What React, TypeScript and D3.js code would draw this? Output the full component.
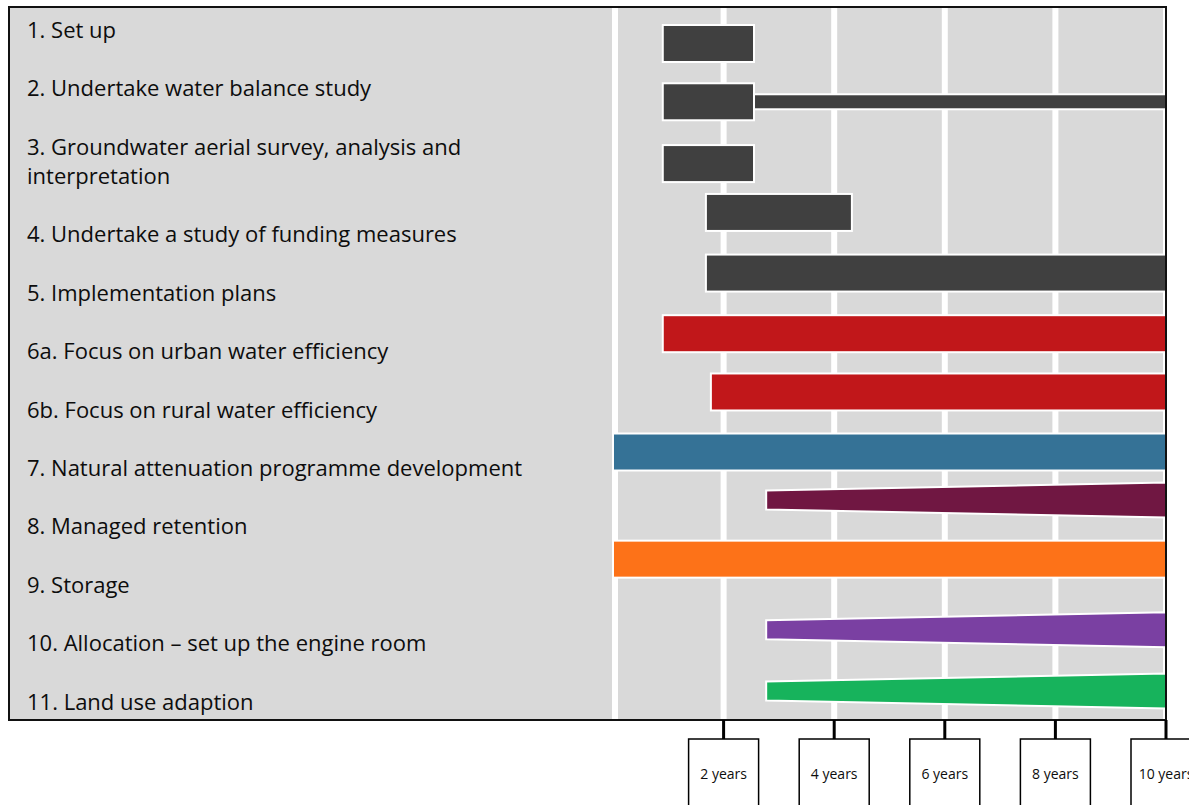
import React from 'react';
import * as d3 from 'd3';

// ---- data ----
const taskLabels: string[] = [
  '1. Set up',
  '2. Undertake water balance study',
  '3. Groundwater aerial survey, analysis and\ninterpretation',
  '4. Undertake a study of funding measures',
  '5. Implementation plans',
  '6a. Focus on urban water efficiency',
  '6b. Focus on rural water efficiency',
  '7. Natural attenuation programme development',
  '8. Managed retention',
  '9. Storage',
  '10. Allocation – set up the engine room',
  '11. Land use adaption',
];
const taskStart: number[] = [0.9, 0.9, 0.9, 1.68, 1.68, 0.9, 1.77, 0, 2.77, 0, 2.77, 2.77];
const taskEnd: number[] = [2.55, 2.55, 2.55, 4.32, 10, 10, 10, 10, 10, 10, 10, 10];
const taskShape: string[] = ['bar', 'bar', 'bar', 'bar', 'bar', 'bar', 'bar', 'bar', 'wedge', 'bar', 'wedge', 'wedge'];
const taskLane: number[] = [0, 0.99, 2.04, 2.87, 3.9, 4.93, 5.92, 6.94, 7.755, 8.76, 9.96, 11.0];
// follow-on phase of task 2 (thin bar)
const followTask: number[] = [1];
const followStart: number[] = [2.55];
const followEnd: number[] = [10];
const tickYears: number[] = [2, 4, 6, 8, 10];
const tickLabels: string[] = ['2 years', '4 years', '6 years', '8 years', '10 years'];
const gridYears: number[] = [0, 2, 4, 6, 8, 10];

// ---- styles ----
const taskColor: string[] = [
  '#404040', '#404040', '#404040', '#404040', '#404040',
  '#c1171a', '#c1171a', '#357296', '#701742', '#fd7218', '#7a40a2', '#17b35c',
];
const W = 1189;
const H = 805;
const frame = { x0: 9, y0: 7, x1: 1166, y1: 720 };
const FONT = '"Open Sans", "Noto Sans", sans-serif';

export default function App() {
  const x = d3.scaleLinear().domain([0, 10]).range([613, 1166]);
  const y = d3.scaleLinear().domain([0, 11]).range([43.5, 691]);
  const lineH = 29.2;
  const firstBase = 38;
  const barH = 37;
  const thinH = 15;
  const wedgeL = 19;
  const wedgeR = 35;

  // label line positions: each label followed by one blank line
  const lineStart: number[] = [];
  let acc = 0;
  taskLabels.forEach((t) => {
    lineStart.push(acc);
    acc += t.split('\n').length + 1;
  });

  const area = d3.area<number[]>()
    .x((d) => d[0])
    .y0((d) => d[1])
    .y1((d) => d[2]);

  return (
    <svg width={W} height={H} style={{ position: 'absolute', left: 0, top: 0, background: '#fff' }}>
      <rect x={frame.x0} y={frame.y0} width={frame.x1 - frame.x0} height={frame.y1 - frame.y0} fill="#d9d9d9" />
      {gridYears.map((g) => (
        <line key={'g' + g} x1={x(g) + (g === 0 ? 2 : 0)} x2={x(g) + (g === 0 ? 2 : 0)} y1={frame.y0} y2={frame.y1}
          stroke="#fff" strokeWidth={6} />
      ))}
      {taskLabels.map((t, i) => {
        const s = x(taskStart[i]);
        const e = x(taskEnd[i]);
        const c = y(taskLane[i]);
        if (taskShape[i] === 'wedge') {
          const d = area([
            [s, c - wedgeL / 2, c + wedgeL / 2],
            [e, c - wedgeR / 2, c + wedgeR / 2],
          ]) as string;
          return <path key={'b' + i} d={d} fill={taskColor[i]} stroke="#fff" strokeWidth={2} />;
        }
        return (
          <rect key={'b' + i} x={s} y={c - barH / 2} width={e - s} height={barH}
            fill={taskColor[i]} stroke="#fff" strokeWidth={2} />
        );
      })}
      {followTask.map((ti, k) => {
        const s = x(followStart[k]);
        const e = x(followEnd[k]);
        const c = y(taskLane[ti]);
        return (
          <rect key={'f' + k} x={s} y={c - thinH / 2} width={e - s} height={thinH}
            fill={taskColor[ti]} stroke="#fff" strokeWidth={2} />
        );
      })}
      {taskLabels.map((t, i) => (
        <text key={'t' + i} x={27} fontFamily={FONT} fontSize={22} fill="#0d0d0d">
          {t.split('\n').map((ln, j) => (
            <tspan key={j} x={27} y={firstBase + (lineStart[i] + j) * lineH}>{ln}</tspan>
          ))}
        </text>
      ))}
      <rect x={frame.x0} y={frame.y0} width={frame.x1 - frame.x0} height={frame.y1 - frame.y0}
        fill="none" stroke="#111" strokeWidth={2} />
      {tickYears.map((t, i) => (
        <g key={'k' + t}>
          <line x1={x(t)} x2={x(t)} y1={frame.y1} y2={739} stroke="#000" strokeWidth={3} />
          <rect x={x(t) - 35} y={739} width={70} height={80} fill="#fff" stroke="#000" strokeWidth={1.5} />
          <text x={x(t)} y={779} textAnchor="middle" fontFamily={FONT} fontSize={14} fill="#0d0d0d">{tickLabels[i]}</text>
        </g>
      ))}
    </svg>
  );
}
